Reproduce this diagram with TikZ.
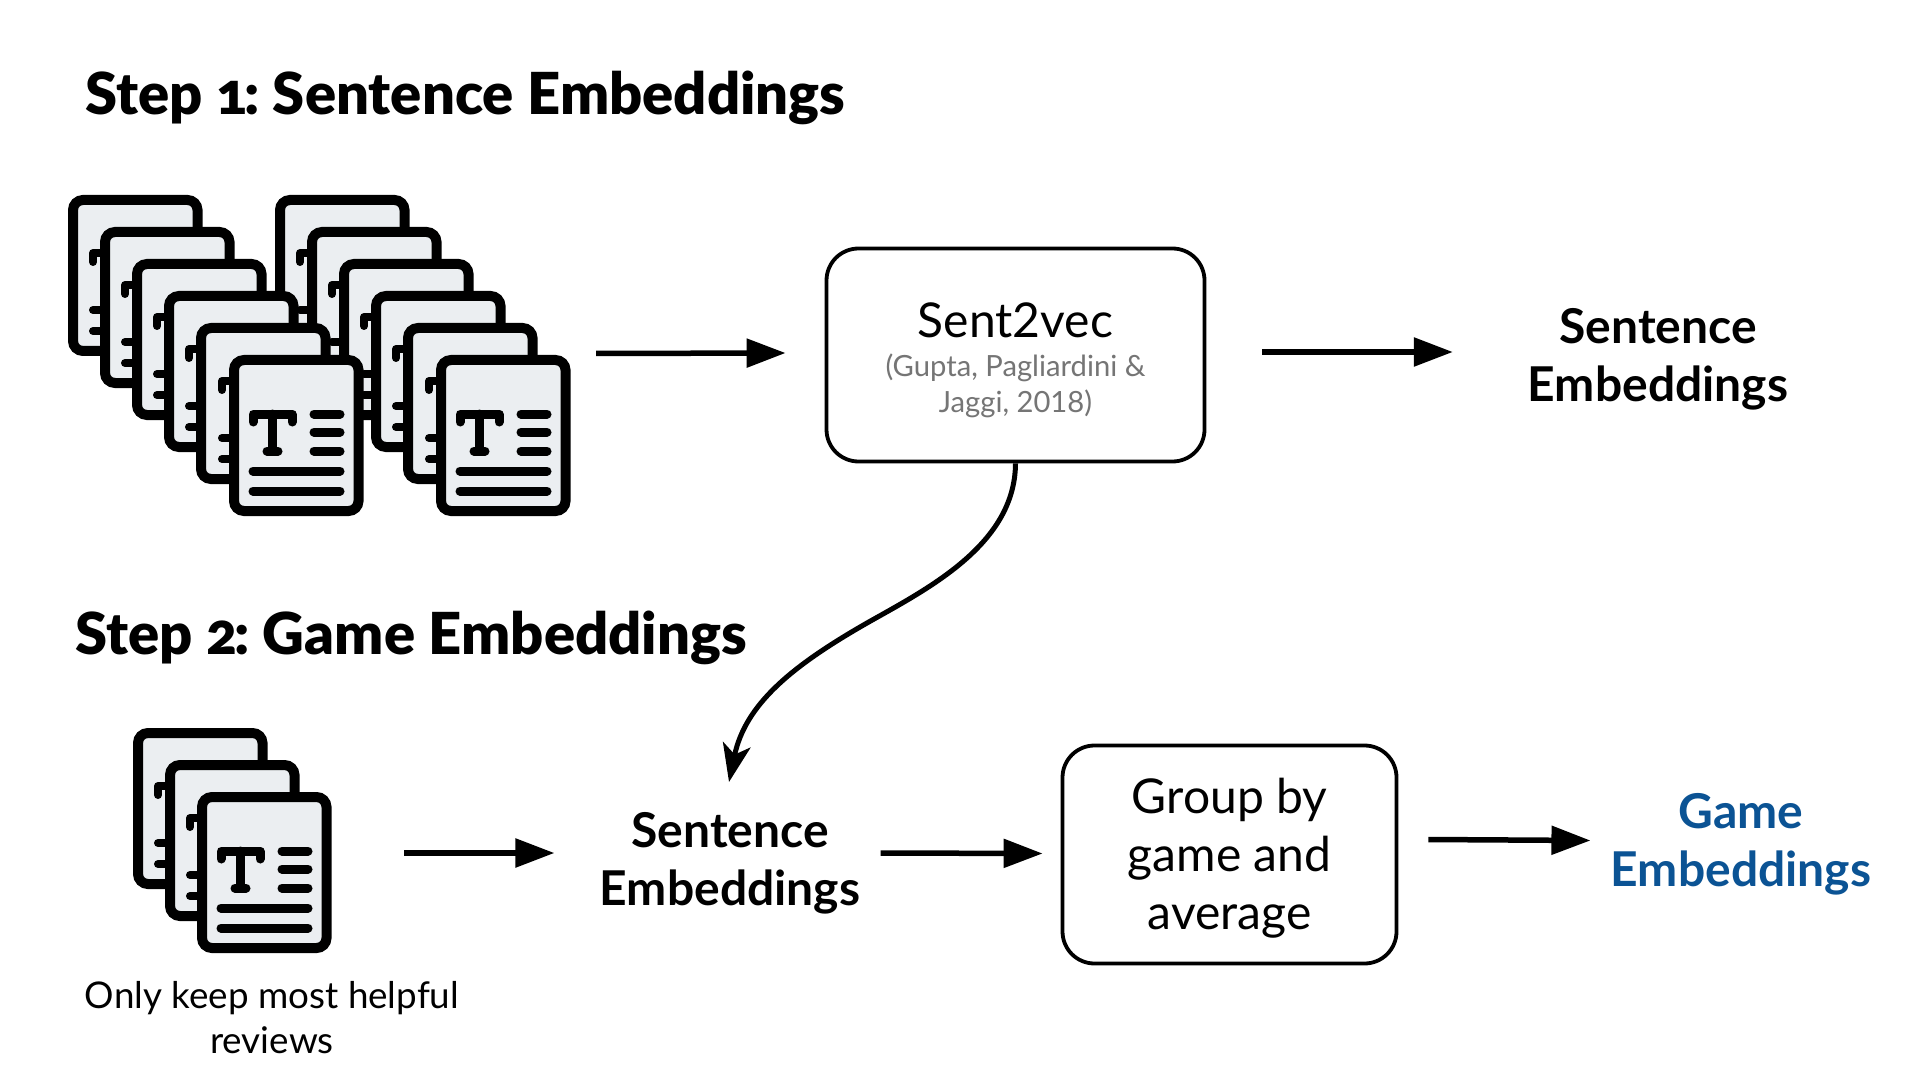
\documentclass[tikz,border=0pt]{standalone}
\usepackage{fontspec}
\usetikzlibrary{arrows.meta}
\setmainfont{Lato}
\newfontfamily\titlefont[Numbers=OldStyle]{Lato Black}
\definecolor{pagefill}{HTML}{EBEEF1}
\definecolor{subgrey}{HTML}{757575}
\definecolor{gameblue}{HTML}{0B5394}
\newcommand{\subline}[1]{{\fontsize{14.6}{18}\selectfont\color{subgrey}#1}}
\tikzset{
  docbody/.style={draw=black,line width=5pt,fill=pagefill,rounded corners=5pt},
  ringline/.style={draw=black,line width=4pt,line cap=round,line join=round},
  markline/.style={draw=black,line width=4.5pt,line cap=round,line join=round},
  flowbox/.style={draw=black,line width=1.9pt,rounded corners=16pt,fill=white,inner sep=0pt,align=center,font=\fontsize{24}{29}\selectfont},
  bigtext/.style={inner sep=0pt,align=center,font=\fontsize{24}{29}\selectfont\bfseries},
  arr/.style={draw=black,line width=2.75pt,-{Triangle[length=19.5pt,width=14pt]}},
  curvearr/.style={draw=black,line width=2.5pt,-{Stealth[length=19pt,width=14pt,inset=5pt]}},
  steptitle/.style={inner sep=0pt,anchor=base west,font=\fontsize{28.95}{32}\titlefont},
  ghost/.style={inner sep=0pt,outer sep=0pt}
}
% #1,#2 top-left corner; #3 = 1 draws the binder rings; #4 = 1 draws the page marks
\newcommand{\docicon}[4]{%
  \begin{scope}[shift={(#1,#2)}]
    \ifnum#3=1
      \draw[ringline] (0,26) -- (-7,26) -- (-7,35);
      \draw[ringline] (0,83) -- (-7,83);
      \draw[ringline] (0,104) -- (-7,104);
    \fi
    \path[docbody] (5,5) rectangle (129.5,156);
    \ifnum#4=1
      \draw[markline] (24,67) -- (24,59) -- (63,59) -- (63,67);
      \draw[markline] (43.5,59) -- (43.5,96);
      \draw[markline] (38,96) -- (49,96);
      \draw[markline] (85,59) -- (111,59);
      \draw[markline] (85,77) -- (111,77);
      \draw[markline] (85,96) -- (111,96);
      \draw[markline] (24,116) -- (111,116);
      \draw[markline] (24,136) -- (111,136);
    \fi
  \end{scope}}
\begin{document}
\begin{tikzpicture}[x=0.5pt,y=-0.5pt]
\useasboundingbox (0,0) rectangle (1920,1080);
\fill[white] (0,0) rectangle (1920,1080);
% stack two, behind
\docicon{275}{195}{0}{0}
\docicon{307}{227}{1}{0}
\docicon{339}{259}{1}{0}
\docicon{371}{291}{1}{0}
\docicon{403}{323}{1}{0}
\docicon{436}{355}{1}{1}
% stack one
\docicon{68}{195}{0}{0}
\docicon{100}{227}{1}{0}
\docicon{132}{259}{1}{0}
\docicon{164}{291}{1}{0}
\docicon{196}{323}{1}{0}
\docicon{229}{355}{1}{1}
% small stack
\docicon{133}{728}{0}{0}
\docicon{165}{760}{1}{0}
\docicon{197}{792}{1}{1}

\node[ghost,minimum width=251pt,minimum height=160.5pt] (docsA) at (319,355.5) {};
\node[ghost,minimum width=99pt,minimum height=112pt] (docsB) at (232,840) {};

\node[steptitle] (titleA) at (85,115) {Step 1\kern-1.5pt:\hspace{6.7pt}Sentence Embeddings};
\node[steptitle] (titleB) at (75,654) {Step 2\kern-1.5pt:\hspace{6.7pt}Game Embeddings};

\node[flowbox,minimum width=189pt,minimum height=106.5pt] (sent2vec) at (1015.5,355)
  {\rule{0pt}{27pt}Sent2vec\\[-9.4pt]\subline{(Gupta, Pagliardini \&}\\[-10.7pt]\subline{Jaggi, 2018)}\rule[-7pt]{0pt}{7pt}};
\node[bigtext] (embA) at (1658,359) {Sentence\\Embeddings};
\node[bigtext] (embB) at (730,863) {Sentence\\Embeddings};
\node[flowbox,minimum width=167pt,minimum height=109pt] (group) at (1229.5,854.5)
  {\rule{0pt}{21.5pt}Group by\\game and\\average};
\node[bigtext,text=gameblue] (game) at (1741,844) {Game\\Embeddings};
\node[inner sep=0pt,align=center,font=\fontsize{18.4}{22.5}\selectfont] (keep) at (272,1018)
  {Only keep most helpful\\reviews};

\draw[arr] ([xshift=13pt,yshift=1pt]docsA.east) -- ([xshift=-19.5pt,yshift=1pt]sent2vec.west);
\draw[arr] ([xshift=28pt,yshift=1.5pt]sent2vec.east) -- ([xshift=-37.3pt,yshift=1.5pt]embA.west |- sent2vec.east);
\coordinate (curveend) at (729,782);
\draw[curvearr] (sent2vec.south) .. controls (1015,545) and (927,589) .. (867,623)
  .. controls (790,667) and (745,705) .. (curveend);
\draw[arr] ([xshift=36.5pt,yshift=-6.5pt]docsB.east) -- ([xshift=-22.5pt,yshift=5pt]embB.west);
\draw[arr] ([xshift=10pt,yshift=5pt]embB.east) -- ([xshift=-9pt,yshift=.5pt]group.west);
\draw[arr] ([xshift=15pt,yshift=7.5pt]group.east) -- ([xshift=-10pt,yshift=7pt]game.west |- group.east);
\end{tikzpicture}
\end{document}
